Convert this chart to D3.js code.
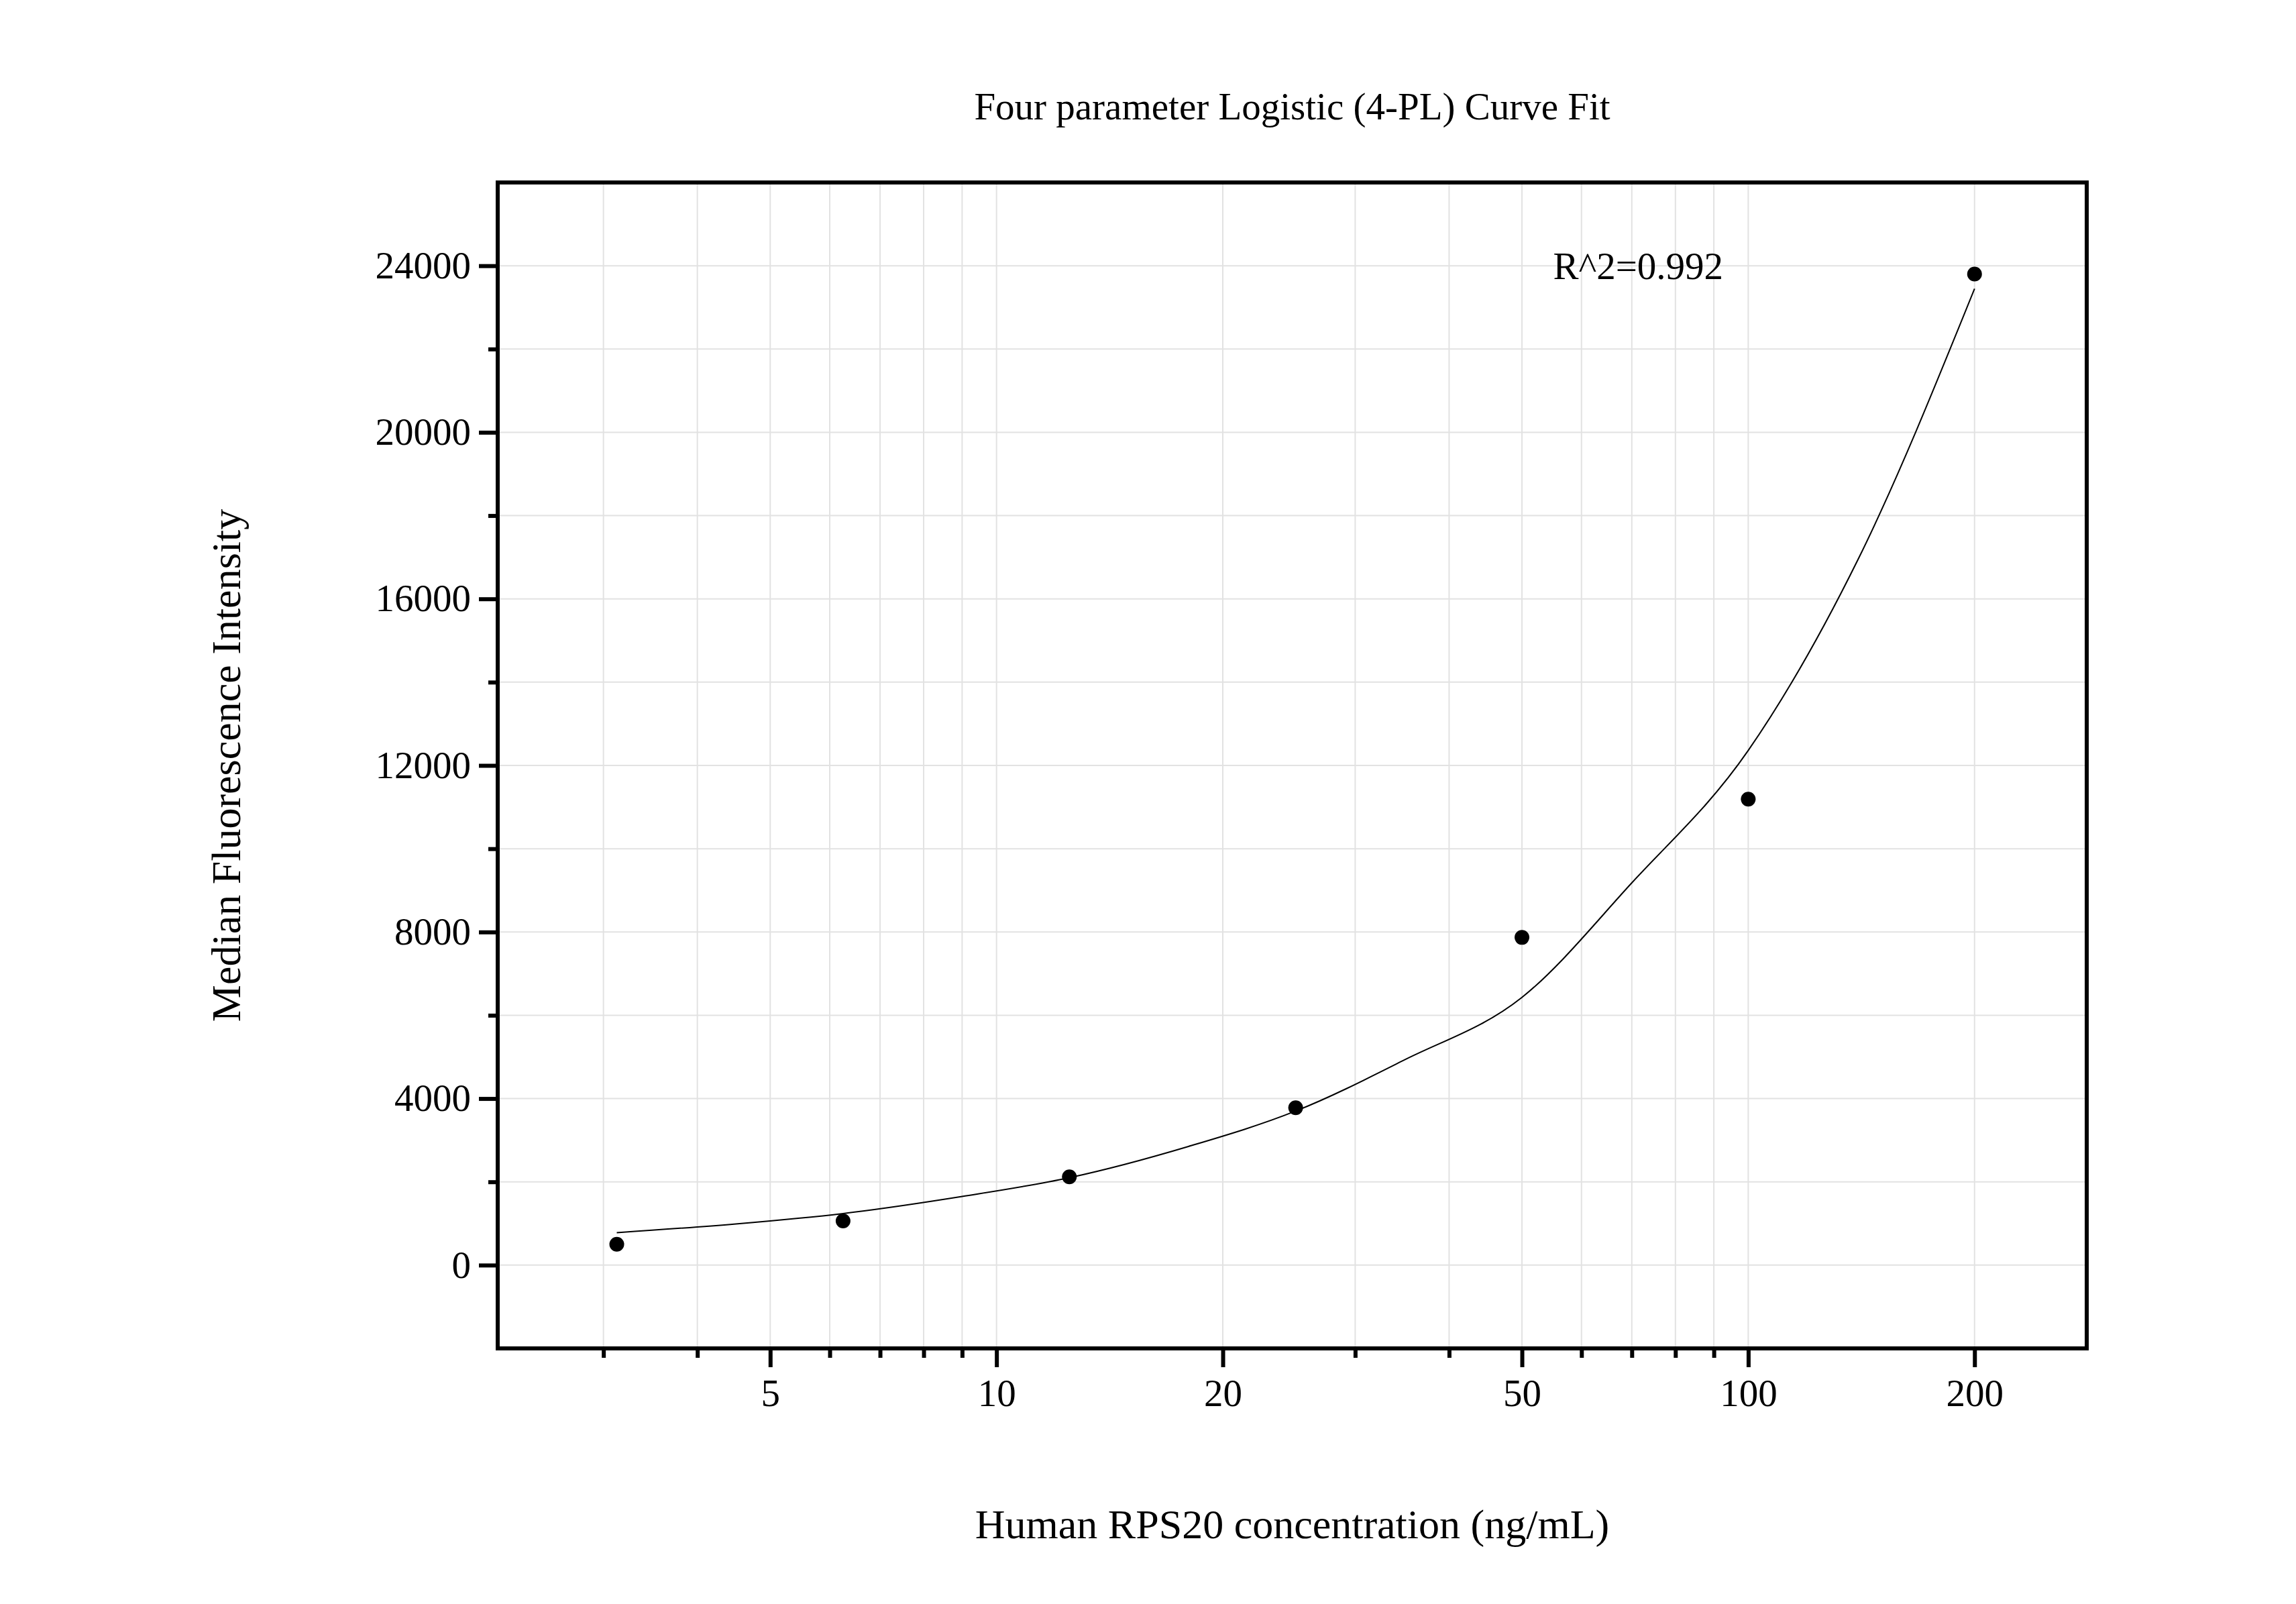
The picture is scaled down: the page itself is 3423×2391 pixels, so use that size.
<!DOCTYPE html>
<html>
<head>
<meta charset="utf-8">
<script src="https://cdn.jsdelivr.net/npm/d3@7"></script>
<style>
  body { margin: 0; background: #fff; }
  text { font-family: "Liberation Serif", "DejaVu Serif", serif; fill: #000; }
</style>
</head>
<body>
<div id="chart"></div>
<script>
// data
var concentrations = [3.125, 6.25, 12.5, 25, 50, 100, 200];
var mfi = [500, 1060, 2120, 3780, 7870, 11190, 23800];
// fitted curve
var curveX = [3.125, 4.5, 6.25, 9, 12.5, 18, 25, 35, 50, 70, 100, 140, 200];
var curveY = [780, 990, 1240, 1650, 2100, 2850, 3700, 4940, 6430, 9180, 12360, 16950, 23450];
var xTickLabels = [5, 10, 20, 50, 100, 200];
var yTickLabels = [0, 4000, 8000, 12000, 16000, 20000, 24000];

var svgWidth = 3423, svgHeight = 2391;
var margin = { top: 272, right: 312, bottom: 381, left: 742 };
var width = svgWidth - margin.left - margin.right;
var height = svgHeight - margin.top - margin.bottom;

var svg = d3.select("#chart").append("svg")
  .attr("width", svgWidth)
  .attr("height", svgHeight);

var chartGroup = svg.append("g")
  .attr("transform", `translate(${margin.left}, ${margin.top})`);

var xScale = d3.scaleLog().domain([2.17, 282]).range([0, width]);
var yScale = d3.scaleLinear().domain([-2000, 26000]).range([height, 0]);

// minor log positions
var xMinor = [];
[1, 10, 100].forEach(function(dec) {
  for (var i = 1; i < 10; i++) {
    var v = dec * i;
    if (v > 2.17 && v < 282) xMinor.push(v);
  }
});
var yMinor = d3.range(-2000, 26001, 2000).filter(v => v > -2000 && v < 26000);

// grid
chartGroup.selectAll(".vgrid").data(xMinor).enter().append("line")
  .attr("x1", d => xScale(d)).attr("x2", d => xScale(d))
  .attr("y1", 0).attr("y2", height)
  .attr("stroke", "#e2e2e2").attr("stroke-width", 2);
chartGroup.selectAll(".hgrid").data(yMinor).enter().append("line")
  .attr("x1", 0).attr("x2", width)
  .attr("y1", d => yScale(d)).attr("y2", d => yScale(d))
  .attr("stroke", "#e2e2e2").attr("stroke-width", 2);

// axes
var bottomMinor = d3.axisBottom(xScale).tickValues(xMinor.filter(v => xTickLabels.indexOf(v) < 0))
  .tickSize(14).tickFormat("");
var bottomAxis = d3.axisBottom(xScale).tickValues(xTickLabels).tickSize(28).tickPadding(18)
  .tickFormat(d3.format("d"));
var leftMinor = d3.axisLeft(yScale).tickValues(yMinor.filter(v => yTickLabels.indexOf(v) < 0))
  .tickSize(14).tickFormat("");
var leftAxis = d3.axisLeft(yScale).tickValues(yTickLabels).tickSize(28).tickPadding(12)
  .tickFormat(d3.format("d"));

[[bottomMinor, true], [bottomAxis, true], [leftMinor, false], [leftAxis, false]].forEach(function(a) {
  var g = chartGroup.append("g");
  if (a[1]) g.attr("transform", `translate(0, ${height})`);
  g.call(a[0]);
  g.select(".domain").remove();
  g.selectAll(".tick line").attr("stroke", "#000").attr("stroke-width", 6);
  g.selectAll(".tick text").attr("font-size", 57).attr("font-family", "Liberation Serif");
});

// frame
chartGroup.append("rect")
  .attr("x", 0).attr("y", 0).attr("width", width).attr("height", height)
  .attr("fill", "none").attr("stroke", "#000").attr("stroke-width", 6);

// fitted curve
var line = d3.line()
  .x((d, i) => xScale(curveX[i]))
  .y(d => yScale(d))
  .curve(d3.curveMonotoneX);
chartGroup.append("path")
  .attr("d", line(curveY))
  .attr("fill", "none").attr("stroke", "#000").attr("stroke-width", 2);

// points
chartGroup.selectAll("circle").data(mfi).enter().append("circle")
  .attr("cx", (d, i) => xScale(concentrations[i]))
  .attr("cy", d => yScale(d))
  .attr("r", 11).attr("fill", "#000");

// annotation
chartGroup.append("text")
  .attr("x", xScale(55)).attr("y", yScale(24000) + 20)
  .attr("font-size", 57).text("R^2=0.992");

// title and labels
svg.append("text")
  .attr("x", margin.left + width / 2).attr("y", 178)
  .attr("text-anchor", "middle").attr("font-size", 57)
  .text("Four parameter Logistic (4-PL) Curve Fit");

svg.append("text")
  .attr("x", margin.left + width / 2).attr("y", 2293)
  .attr("text-anchor", "middle").attr("font-size", 62)
  .text("Human RPS20 concentration (ng/mL)");

svg.append("text")
  .attr("transform", `translate(358, ${margin.top + height / 2}) rotate(-90)`)
  .attr("text-anchor", "middle").attr("font-size", 62)
  .text("Median Fluorescence Intensity");
</script>
</body>
</html>
